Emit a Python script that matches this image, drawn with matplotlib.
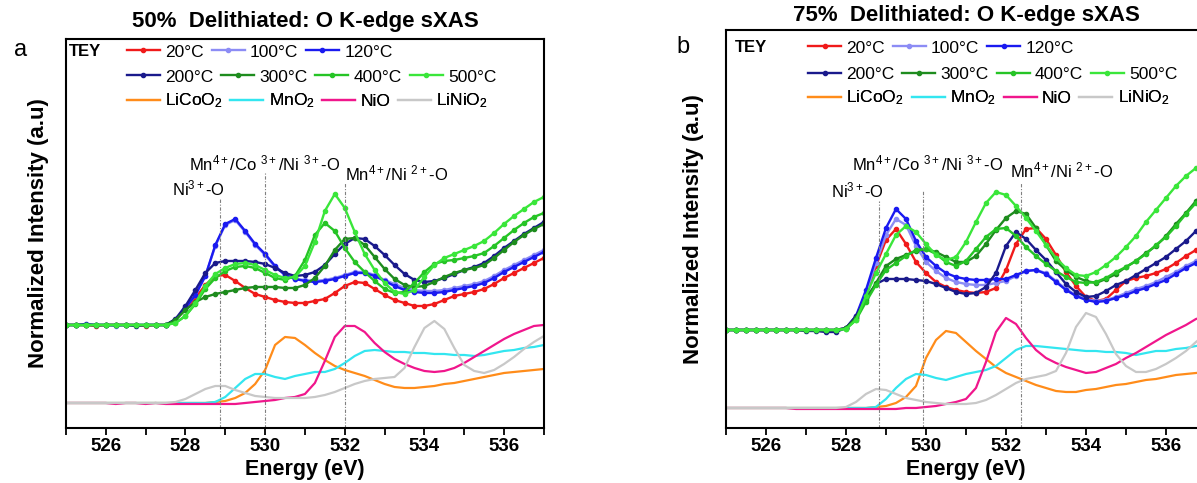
import numpy as np
import matplotlib
matplotlib.use("Agg")
import matplotlib.pyplot as plt
from matplotlib.ticker import MultipleLocator

plt.rcParams['font.family'] = ['Liberation Sans', 'DejaVu Sans']
plt.rcParams['mathtext.fontset'] = 'custom'
plt.rcParams['mathtext.rm'] = 'Liberation Sans'
plt.rcParams['mathtext.it'] = 'Liberation Sans:italic'
plt.rcParams['mathtext.bf'] = 'Liberation Sans:bold'

# energy grid (eV), 0.25 eV steps from 525 to 537
energy = np.arange(525.0, 537.01, 0.25)

temps = ["20°C", "100°C", "120°C", "200°C", "300°C", "400°C", "500°C"]
temp_colors = ["#f01a1a", "#8c8cf5", "#1a1af0", "#1a1a8c", "#1e8c1e", "#26c426", "#3ae63a"]
refs = ["LiCoO$_2$", "MnO$_2$", "NiO", "LiNiO$_2$"]
ref_colors = ["#ff8c1a", "#33e6f0", "#f0168c", "#c8c8c8"]

# ---------------- panel a : 50% delithiated ----------------
a_20C = [1.03, 1.03, 1.03, 1.02, 1.03, 1.03, 1.03, 1.03, 1.02, 1.03, 1.03,
         1.08, 1.19, 1.30, 1.43, 1.52, 1.53, 1.47, 1.40, 1.34, 1.31, 1.28, 1.26, 1.25,
         1.25, 1.27, 1.29, 1.35, 1.42, 1.46, 1.45, 1.39, 1.33, 1.28, 1.25, 1.22,
         1.22, 1.24, 1.28, 1.32, 1.34, 1.36, 1.39, 1.44, 1.50, 1.55, 1.60, 1.65, 1.70]
a_100C = [1.03, 1.03, 1.03, 1.03, 1.03, 1.02, 1.03, 1.03, 1.03, 1.03, 1.03,
          1.08, 1.20, 1.33, 1.52, 1.82, 2.03, 2.08, 1.96, 1.83, 1.73, 1.61, 1.53, 1.49,
          1.48, 1.47, 1.48, 1.50, 1.53, 1.56, 1.56, 1.53, 1.48, 1.44, 1.40, 1.38,
          1.37, 1.37, 1.38, 1.40, 1.42, 1.44, 1.47, 1.52, 1.58, 1.63, 1.68, 1.73, 1.78]
a_120C = [1.03, 1.03, 1.04, 1.03, 1.03, 1.03, 1.03, 1.03, 1.03, 1.03, 1.03,
          1.08, 1.20, 1.33, 1.52, 1.83, 2.04, 2.09, 1.97, 1.84, 1.74, 1.62, 1.53, 1.49,
          1.47, 1.46, 1.47, 1.49, 1.52, 1.55, 1.55, 1.52, 1.47, 1.42, 1.38, 1.36,
          1.35, 1.35, 1.36, 1.38, 1.40, 1.42, 1.45, 1.50, 1.56, 1.61, 1.66, 1.71, 1.76]
a_200C = [1.03, 1.03, 1.03, 1.03, 1.03, 1.03, 1.03, 1.02, 1.03, 1.03, 1.03,
          1.09, 1.22, 1.38, 1.55, 1.65, 1.67, 1.67, 1.67, 1.66, 1.64, 1.60, 1.55, 1.52,
          1.53, 1.56, 1.63, 1.74, 1.84, 1.90, 1.89, 1.82, 1.73, 1.63, 1.54, 1.48,
          1.46, 1.47, 1.50, 1.54, 1.58, 1.61, 1.65, 1.72, 1.80, 1.87, 1.94, 2.00, 2.06]
a_300C = [1.03, 1.03, 1.03, 1.03, 1.03, 1.03, 1.03, 1.03, 1.03, 1.03, 1.03,
          1.08, 1.18, 1.26, 1.31, 1.34, 1.36, 1.38, 1.40, 1.41, 1.41, 1.41, 1.40, 1.40,
          1.43, 1.50, 1.62, 1.78, 1.89, 1.90, 1.83, 1.71, 1.59, 1.49, 1.43, 1.41,
          1.42, 1.46, 1.51, 1.55, 1.58, 1.60, 1.63, 1.70, 1.78, 1.86, 1.93, 1.99, 2.04]
a_400C = [1.03, 1.03, 1.03, 1.03, 1.03, 1.03, 1.03, 1.03, 1.03, 1.03, 1.03,
          1.05, 1.12, 1.24, 1.39, 1.50, 1.57, 1.61, 1.62, 1.60, 1.55, 1.50, 1.48, 1.52,
          1.68, 1.93, 2.05, 1.97, 1.80, 1.66, 1.56, 1.47, 1.39, 1.35, 1.36, 1.45,
          1.56, 1.64, 1.67, 1.68, 1.70, 1.72, 1.75, 1.82, 1.90, 1.98, 2.05, 2.11, 2.15]
a_500C = [1.03, 1.03, 1.03, 1.03, 1.03, 1.03, 1.03, 1.03, 1.03, 1.03, 1.03,
          1.05, 1.12, 1.25, 1.42, 1.54, 1.60, 1.64, 1.65, 1.63, 1.58, 1.53, 1.50, 1.51,
          1.62, 1.86, 2.17, 2.34, 2.20, 1.96, 1.74, 1.58, 1.45, 1.36, 1.34, 1.38,
          1.51, 1.63, 1.70, 1.74, 1.78, 1.82, 1.87, 1.95, 2.04, 2.12, 2.19, 2.26, 2.31]

a_LiCoO2 = [0.25, 0.25, 0.25, 0.25, 0.25, 0.25, 0.25, 0.25, 0.25, 0.25, 0.25, 0.25, 0.25, 0.25, 0.25,
            0.26, 0.27, 0.30, 0.35, 0.44, 0.58, 0.83, 0.91, 0.90, 0.83, 0.75, 0.68, 0.62,
            0.58, 0.55, 0.52, 0.48, 0.44, 0.41, 0.40, 0.40, 0.41, 0.42, 0.44, 0.45,
            0.47, 0.49, 0.51, 0.53, 0.55, 0.56, 0.57, 0.58, 0.59]
a_MnO2 = [0.25, 0.25, 0.25, 0.25, 0.25, 0.25, 0.25, 0.25, 0.25, 0.25, 0.25, 0.25, 0.25, 0.25, 0.25,
          0.26, 0.31, 0.40, 0.49, 0.54, 0.54, 0.51, 0.49, 0.52, 0.54, 0.56, 0.56, 0.59,
          0.65, 0.72, 0.77, 0.78, 0.77, 0.76, 0.76, 0.75, 0.75, 0.74, 0.74, 0.73,
          0.73, 0.72, 0.73, 0.75, 0.77, 0.78, 0.80, 0.81, 0.83]
a_NiO = [0.25, 0.25, 0.25, 0.25, 0.25, 0.24, 0.25, 0.25, 0.24, 0.25, 0.24, 0.24, 0.24, 0.24, 0.24,
         0.24, 0.24, 0.24, 0.25, 0.26, 0.27, 0.28, 0.30, 0.31, 0.34, 0.45, 0.67, 0.91,
         1.02, 1.02, 0.96, 0.85, 0.76, 0.69, 0.64, 0.60, 0.57, 0.56, 0.57, 0.60,
         0.65, 0.71, 0.77, 0.83, 0.89, 0.94, 0.98, 1.02, 1.03]
a_LiNiO2 = [0.25, 0.25, 0.25, 0.25, 0.25, 0.25, 0.25, 0.25, 0.25, 0.25, 0.25,
            0.26, 0.29, 0.34, 0.39, 0.42, 0.42, 0.38, 0.35, 0.32, 0.31, 0.30, 0.30, 0.30,
            0.30, 0.31, 0.33, 0.36, 0.40, 0.44, 0.47, 0.49, 0.50, 0.51, 0.60, 0.81,
            1.00, 1.07, 0.99, 0.80, 0.63, 0.57, 0.55, 0.58, 0.64, 0.71, 0.79, 0.86, 0.92]

a_guides = [528.88, 530.0, 532.0]
a_guide_tops = [2.30, 2.56, 2.45]

# ---------------- panel b : 75% delithiated ----------------
b_20C = [0.98, 0.98, 0.98, 0.98, 0.98, 0.98, 0.98, 0.98, 0.98, 0.98, 0.98, 0.98,
         1.00, 1.10, 1.32, 1.62, 1.88, 1.99, 1.84, 1.66, 1.55, 1.46, 1.41, 1.38,
         1.36, 1.35, 1.36, 1.40, 1.58, 1.84, 1.99, 2.00, 1.89, 1.73, 1.56, 1.42,
         1.31, 1.27, 1.29, 1.38, 1.47, 1.50, 1.52, 1.55, 1.59, 1.65, 1.72, 1.78, 1.83]
b_100C = [0.98, 0.98, 0.98, 0.98, 0.98, 0.98, 0.98, 0.98, 0.98, 0.98, 0.98, 0.98,
          1.00, 1.11, 1.35, 1.65, 1.93, 2.09, 2.03, 1.82, 1.66, 1.57, 1.50, 1.46,
          1.44, 1.43, 1.43, 1.45, 1.47, 1.52, 1.57, 1.58, 1.55, 1.47, 1.39, 1.33,
          1.29, 1.27, 1.28, 1.31, 1.35, 1.39, 1.42, 1.46, 1.51, 1.56, 1.62, 1.67, 1.72]
b_120C = [0.98, 0.98, 0.98, 0.98, 0.98, 0.98, 0.98, 0.98, 0.98, 0.98, 0.98, 0.98,
          1.00, 1.12, 1.38, 1.70, 2.00, 2.19, 2.09, 1.87, 1.71, 1.62, 1.55, 1.51,
          1.49, 1.48, 1.48, 1.49, 1.49, 1.53, 1.57, 1.58, 1.54, 1.46, 1.38, 1.32,
          1.28, 1.26, 1.27, 1.30, 1.33, 1.37, 1.40, 1.44, 1.48, 1.54, 1.60, 1.65, 1.70]
b_200C = [0.98, 0.98, 0.98, 0.98, 0.98, 0.98, 0.98, 0.98, 0.97, 0.97, 0.96, 0.96,
          1.00, 1.12, 1.30, 1.44, 1.49, 1.49, 1.49, 1.48, 1.47, 1.44, 1.40, 1.36,
          1.34, 1.35, 1.41, 1.55, 1.82, 1.96, 1.89, 1.78, 1.68, 1.56, 1.44, 1.36,
          1.31, 1.32, 1.37, 1.43, 1.47, 1.53, 1.59, 1.65, 1.71, 1.79, 1.87, 1.97, 2.05]
b_300C = [0.98, 0.98, 0.98, 0.98, 0.98, 0.98, 0.98, 0.98, 0.98, 0.98, 0.98, 0.98,
          1.00, 1.10, 1.28, 1.45, 1.62, 1.69, 1.73, 1.77, 1.79, 1.76, 1.71, 1.66,
          1.66, 1.72, 1.84, 1.98, 2.10, 2.17, 2.14, 2.00, 1.83, 1.67, 1.58, 1.51,
          1.47, 1.45, 1.49, 1.54, 1.61, 1.67, 1.75, 1.82, 1.92, 2.04, 2.15, 2.27, 2.37]
b_400C = [0.98, 0.98, 0.98, 0.98, 0.98, 0.98, 0.98, 0.98, 0.98, 0.98, 0.98, 0.98,
          0.99, 1.08, 1.26, 1.43, 1.58, 1.65, 1.72, 1.78, 1.79, 1.74, 1.66, 1.62,
          1.67, 1.79, 1.91, 1.99, 2.00, 1.92, 1.81, 1.72, 1.64, 1.57, 1.51, 1.46,
          1.45, 1.46, 1.50, 1.56, 1.61, 1.67, 1.74, 1.83, 1.91, 2.02, 2.14, 2.25, 2.33]
b_500C = [0.98, 0.98, 0.98, 0.98, 0.98, 0.98, 0.98, 0.98, 0.98, 0.98, 0.98, 0.98,
          0.99, 1.08, 1.32, 1.55, 1.74, 1.93, 2.02, 1.96, 1.84, 1.73, 1.68, 1.71,
          1.86, 2.06, 2.25, 2.36, 2.33, 2.22, 2.10, 1.97, 1.83, 1.70, 1.60, 1.53,
          1.52, 1.56, 1.63, 1.71, 1.81, 1.92, 2.06, 2.18, 2.30, 2.42, 2.52, 2.60, 2.66]

b_LiCoO2 = [0.20, 0.20, 0.20, 0.20, 0.20, 0.20, 0.20, 0.20, 0.20, 0.20, 0.20, 0.20, 0.20, 0.20, 0.20,
            0.21, 0.22, 0.25, 0.31, 0.42, 0.70, 0.88, 0.97, 0.95, 0.86, 0.77, 0.69, 0.61,
            0.55, 0.51, 0.47, 0.43, 0.40, 0.37, 0.36, 0.36, 0.38, 0.39, 0.41, 0.43,
            0.44, 0.46, 0.48, 0.49, 0.51, 0.53, 0.54, 0.55, 0.56]
b_MnO2 = [0.20, 0.20, 0.20, 0.20, 0.20, 0.20, 0.20, 0.20, 0.20, 0.20, 0.20, 0.20, 0.20, 0.20, 0.20,
          0.21, 0.29, 0.40, 0.49, 0.54, 0.53, 0.50, 0.48, 0.51, 0.54, 0.56, 0.58, 0.62,
          0.70, 0.78, 0.82, 0.82, 0.81, 0.80, 0.79, 0.78, 0.77, 0.77, 0.76, 0.76,
          0.75, 0.73, 0.75, 0.77, 0.77, 0.79, 0.80, 0.82, 0.83]
b_NiO = [0.20, 0.20, 0.20, 0.20, 0.20, 0.20, 0.20, 0.19, 0.19, 0.19, 0.19, 0.19, 0.19, 0.19, 0.19,
         0.19, 0.19, 0.19, 0.20, 0.20, 0.21, 0.22, 0.24, 0.26, 0.29, 0.40, 0.66, 0.96,
         1.10, 1.04, 0.90, 0.78, 0.70, 0.65, 0.61, 0.58, 0.55, 0.56, 0.60, 0.64,
         0.70, 0.75, 0.81, 0.87, 0.93, 0.98, 1.03, 1.09, 1.12]
b_LiNiO2 = [0.20, 0.20, 0.20, 0.20, 0.20, 0.20, 0.20, 0.20, 0.20, 0.20, 0.20, 0.20,
            0.21, 0.26, 0.34, 0.39, 0.38, 0.34, 0.30, 0.28, 0.26, 0.25, 0.24, 0.24,
            0.24, 0.25, 0.28, 0.33, 0.39, 0.45, 0.49, 0.51, 0.53, 0.57, 0.75, 1.01,
            1.15, 1.11, 0.94, 0.74, 0.62, 0.56, 0.56, 0.59, 0.64, 0.70, 0.77, 0.86, 0.94]

b_guides = [528.83, 529.93, 532.38]
b_guide_tops = [2.27, 2.38, 2.46]

peak_labels = ["Ni$^{3+}$-O", "Mn$^{4+}$/Co $^{3+}$/Ni $^{3+}$-O", "Mn$^{4+}$/Ni $^{2+}$-O"]
a_label_pos = [(528.32, 2.40), (530.0, 2.65), (533.3, 2.55)]
b_label_pos = [(528.3, 2.38), (530.05, 2.65), (533.4, 2.58)]


def draw_panel(ax, samples, references, guides, guide_tops, label_pos, ytop, row_y, leg_x, tey_x):
    for y, c, lab in zip(samples, temp_colors, temps):
        ax.plot(energy, y, color=c, lw=1.7, marker='o', ms=3.0, label=lab)
    for y, c, lab in zip(references, ref_colors, refs):
        ax.plot(energy, y, color=c, lw=1.6, label=lab)

    ax.vlines(guides, 0, guide_tops, colors='#808080', lw=0.8, linestyles=(0, (3, 1.5, 1, 1.5)))
    for txt, (ex, ey) in zip(peak_labels, label_pos):
        ax.text(ex, ey, txt, fontsize=12, ha='center', va='center')

    ax.set_xlim(525, 537)
    ax.set_ylim(0, ytop)
    ax.set_yticks([])
    ax.xaxis.set_major_locator(MultipleLocator(2))
    ax.xaxis.set_minor_locator(MultipleLocator(1))
    ax.tick_params(axis='x', which='both', direction='out', length=5, width=1.3,
                   labelsize=13.5, pad=2, top=False)
    for lab in ax.get_xticklabels():
        lab.set_fontweight('bold')
    for sp in ax.spines.values():
        sp.set_linewidth(1.5)

    ax.set_xlabel("Energy (eV)", fontsize=15.5, fontweight='bold')
    ax.set_ylabel("Normalized Intensity (a.u)", fontsize=16, fontweight='bold')

    # legend laid out in three rows like the original
    h = ax.get_lines()
    rows = [h[0:3], h[3:7], h[7:11]]
    for handles, yc in zip(rows, row_y):
        leg = ax.legend(handles=handles, ncol=len(handles), loc='center left',
                        bbox_to_anchor=(leg_x, yc), frameon=False, fontsize=12.5,
                        handlelength=1.9, handletextpad=0.3, columnspacing=0.45,
                        borderpad=0, borderaxespad=0, numpoints=1)
        ax.add_artist(leg)
    ax.text(tey_x, row_y[0], "TEY", transform=ax.transAxes, fontsize=12,
            fontweight='bold', va='center', ha='left')


fig = plt.figure(figsize=(11.97, 4.83), dpi=100)
ax1 = fig.add_axes([0.0551, 0.1139, 0.3993, 0.8054])
ax2 = fig.add_axes([0.6065, 0.1139, 0.4010, 0.8240])

draw_panel(ax1, [a_20C, a_100C, a_120C, a_200C, a_300C, a_400C, a_500C],
           [a_LiCoO2, a_MnO2, a_NiO, a_LiNiO2], a_guides, a_guide_tops, a_label_pos,
           3.89, [0.9666, 0.9023, 0.8406], 0.1276, 0.006)
draw_panel(ax2, [b_20C, b_100C, b_120C, b_200C, b_300C, b_400C, b_500C],
           [b_LiCoO2, b_MnO2, b_NiO, b_LiNiO2], b_guides, b_guide_tops, b_label_pos,
           3.98, [0.9548, 0.8894, 0.8291], 0.171, 0.019)

ax1.yaxis.set_label_coords(-0.036, 0.5)
ax2.yaxis.set_label_coords(-0.046, 0.5)
ax1.xaxis.set_label_coords(0.5, -0.106)
ax2.xaxis.set_label_coords(0.5, -0.104)
ax1.xaxis.label.set_va('center')
ax2.xaxis.label.set_va('center')

fig.text(0.2548, 1 - 22 / 483, "50%  Delithiated: O K-edge sXAS", fontsize=16,
         fontweight='bold', ha='center', va='center')
fig.text(0.807, 1 - 16 / 483, "75%  Delithiated: O K-edge sXAS", fontsize=16,
         fontweight='bold', ha='center', va='center')
fig.text(0.0175, 1 - 50 / 483, "a", fontsize=17, ha='center', va='center')
fig.text(0.5706, 1 - 47 / 483, "b", fontsize=17, ha='center', va='center')

fig.savefig("out.png", dpi=100)
